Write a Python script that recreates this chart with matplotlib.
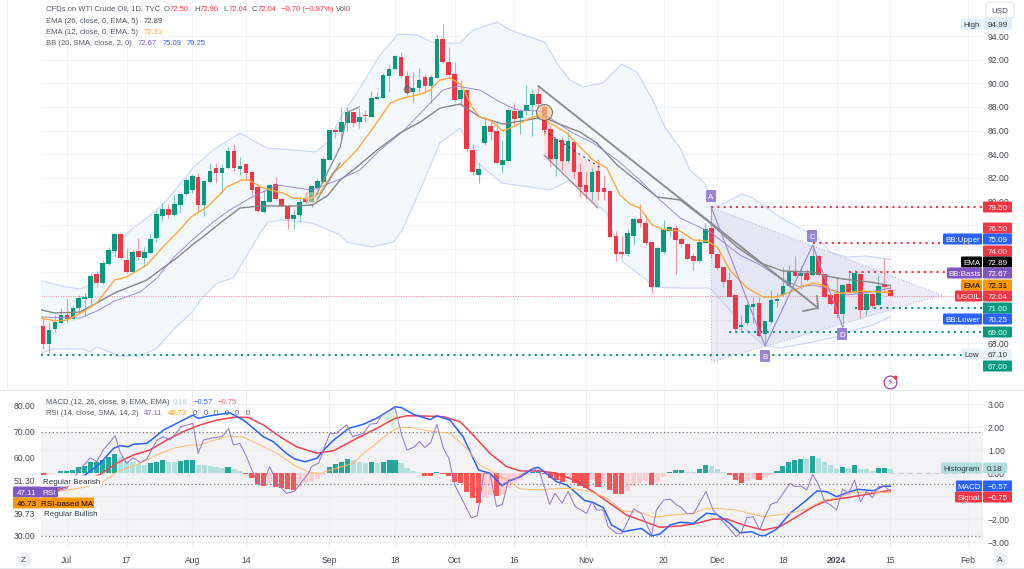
import numpy as np
import matplotlib
matplotlib.use("Agg")
import matplotlib.pyplot as plt
from matplotlib.patches import Rectangle, FancyBboxPatch

plt.rcParams['font.family'] = ['Liberation Sans', 'DejaVu Sans']

# candles, daily bars
opens = [69.46,67.94,69.18,69.75,70.37,70.06,70.96,71.75,71.81,73.84,73.07,74.74,75.81,77.22,75.02,74.06,75.78,75.22,75.67,76.91,
         78.77,79.31,78.83,79.70,80.61,81.00,82.05,79.70,81.68,82.81,82.44,82.81,84.22,82.75,83.12,82.47,81.20,79.14,79.98,81.45,
         80.18,79.62,78.49,78.85,80.18,79.93,81.12,81.68,83.51,86.05,85.91,86.67,87.52,86.70,87.32,87.18,88.70,88.79,90.59,91.18,
         92.20,90.62,89.27,89.58,90.51,89.77,90.45,93.75,91.75,90.79,88.65,89.38,84.36,82.24,84.98,86.39,85.97,83.12,83.46,87.66,
         87.04,87.66,88.14,89.07,87.94,86.11,83.57,85.20,83.46,85.01,82.50,81.40,80.78,82.53,81.09,80.88,77.08,75.67,75.53,77.11,
         78.52,78.15,76.57,72.79,75.75,77.50,77.73,76.80,76.40,75.33,74.99,76.51,77.76,75.56,74.43,73.30,72.09,69.35,69.69,71.10,
         71.38,68.79,69.77,71.58,72.09,72.85,74.06,73.69,73.92,73.75,75.33,73.81,72.06,72.17,70.48,73.02,72.31,73.86,70.82,72.17,
         71.24,72.99,72.50]
highs = [70.11,69.69,70.39,70.96,71.72,71.24,72.09,72.28,73.92,74.12,74.96,76.12,77.30,77.30,76.04,75.89,76.88,76.12,77.22,79.28,
         79.84,79.76,80.55,80.74,82.00,82.30,82.39,81.85,83.23,83.23,83.18,84.64,84.87,83.80,83.23,82.61,81.40,81.00,81.50,82.10,
         80.26,79.70,79.28,80.41,80.83,81.40,81.90,83.75,86.00,86.10,88.03,88.03,87.60,87.88,87.74,89.38,89.30,90.85,91.55,92.40,
         92.68,91.07,90.99,91.27,90.79,90.79,94.17,94.99,93.10,91.83,90.28,89.49,84.87,83.23,87.18,86.76,86.62,85.20,87.74,88.31,
         87.74,89.86,89.49,89.86,88.25,86.47,85.35,85.43,85.91,85.20,83.23,82.53,82.81,83.57,82.24,80.97,77.53,77.08,77.67,78.57,
         79.76,78.85,76.60,76.12,78.43,77.92,78.01,77.02,76.46,75.61,76.88,78.15,79.56,75.61,74.48,74.06,72.09,70.39,71.38,71.95,
         71.95,69.89,72.51,72.23,74.48,74.62,75.39,74.54,74.26,76.23,75.47,73.92,72.17,73.58,73.02,74.06,74.20,73.92,72.23,72.23,
         73.78,75.25,72.90]
lows = [67.55,67.15,68.98,69.61,69.83,69.97,70.68,70.31,71.24,72.74,73.02,74.65,75.39,75.13,73.92,73.98,75.05,74.54,75.61,76.54,
        78.38,78.60,78.77,79.14,80.55,80.69,79.14,78.77,81.60,81.60,80.75,82.75,82.61,82.24,81.82,80.55,79.14,79.05,79.95,80.15,
        79.60,77.67,77.64,78.29,79.84,79.50,81.00,81.60,83.50,85.35,85.06,85.99,86.33,86.19,86.76,87.18,88.70,88.73,89.30,91.13,
        90.42,89.01,88.45,89.30,89.21,88.31,90.42,91.69,90.42,88.45,88.17,84.22,82.24,81.60,84.78,85.20,83.17,82.39,83.46,86.39,
        85.68,87.32,85.54,88.08,85.63,82.95,82.19,82.67,83.23,81.96,80.41,80.19,80.13,80.13,80.13,77.00,74.96,75.33,75.41,76.32,
        77.87,76.32,72.23,72.79,75.53,77.02,73.86,76.18,75.10,74.20,74.77,76.46,75.19,74.20,72.74,71.95,68.98,68.98,69.55,69.69,
        68.56,67.86,69.75,71.10,72.00,72.79,73.69,72.60,73.30,73.69,73.69,71.80,71.24,70.11,69.41,72.23,72.26,70.11,70.39,70.96,
        71.21,72.37,72.04]
closes = [67.94,69.10,69.75,70.37,70.06,70.99,71.78,71.89,73.67,73.13,74.79,75.84,77.22,75.19,74.00,75.72,75.27,75.70,76.80,78.94,
          79.31,78.86,79.79,80.63,81.77,82.15,79.70,81.74,82.58,82.44,82.81,84.22,82.81,83.00,82.39,80.97,79.23,80.04,81.40,80.18,
          79.64,78.52,78.85,79.95,79.95,81.31,81.74,83.57,85.99,85.88,86.70,87.55,86.67,87.12,87.26,88.73,88.84,90.70,91.18,92.26,
          90.62,89.15,89.58,90.28,89.80,90.51,93.72,91.78,90.70,88.59,89.38,84.42,82.50,82.75,86.33,85.91,83.23,83.51,87.69,86.95,
          87.66,88.17,89.10,88.25,86.05,83.63,85.26,83.46,85.12,82.53,81.26,80.83,82.50,80.83,80.83,77.02,75.53,75.53,77.30,78.49,
          78.15,76.46,72.79,76.06,77.59,77.78,76.74,76.37,75.10,74.99,76.51,77.67,75.56,74.34,73.16,71.95,69.18,69.55,71.24,71.33,
          68.65,69.83,71.61,71.75,72.85,74.06,73.72,73.92,73.36,75.33,73.75,71.95,71.30,70.45,72.93,72.31,73.92,70.82,72.17,71.19,
          72.79,72.74,72.04]

# overlays, (bar, price) pairs read where the line is visible
ema12_x = [-0.3,2,4,6.7,9,12,14,17.4,20.1,22.4,25,27.5,30,30.8,33.3,34.4,36.9,40.2,41.9,44.7,46.4,48.6,49.8,52.6,55.3,58.2,59.8,63.2,64.9,66.5,68.2,70.2,71.9,73.2,74.9,77.1,79.4,81.6,83.3,84.7,87.8,90,92.2,94.5,96.7,98.4,100,102.1,103.7,106.8,109,111.3,113,115.1,118,120.7,123,125.2,127.4,129,130.7,133,134.7,137.4,139.8,142]
ema12_y = [70.14,69.89,69.97,70.65,71.41,73.36,73.61,74.63,76.15,77.33,78.77,79.53,80.80,81.22,81.82,81.82,81.14,80.72,80.29,80.21,80.72,82.41,82.92,84.36,86.22,88.33,88.67,89.09,89.43,90.28,90.45,89.85,88.00,87.15,86.89,85.96,86.47,87.06,87.32,86.72,85.79,84.61,83.51,82.83,80.55,79.78,79.45,78.01,77.67,77.50,76.74,76.66,76.15,74.20,72.68,71.92,71.92,72.34,72.85,73.10,72.93,72.26,72.26,72.42,72.34,72.31]
ema26_x = [-0.3,2,6.2,9,12,17.4,20.1,22.4,25,26.8,29.7,33,36.4,41.9,45.2,47.8,49.8,52.6,56,59.8,63.2,66.5,69.9,71.2,73.2,77.1,81.1,83.8,86.1,90,92.8,96.2,100,102.9,106.8,111.8,116.3,120.2,124,129,131.4,134.1,138.6,142]
ema26_y = [70.82,70.57,70.65,71.41,72.26,73.36,74.37,75.22,76.32,77.00,78.18,79.45,79.62,79.62,79.70,80.55,81.82,82.92,84.36,85.79,86.72,87.90,88.25,87.82,87.15,86.55,86.89,87.15,86.64,85.88,84.95,83.09,81.56,80.38,80.13,78.18,76.15,74.80,74.12,74.03,73.69,73.44,73.19,72.89]
basis_x = [-0.3,6.2,9,12,16.3,19.1,21.8,25,28.5,31.3,34.7,39.2,45.2,49.8,53.1,56.5,60.2,64.9,67,69.4,73.2,76.6,79.4,83.3,85.5,88.8,92.2,96.2,100,103.4,106.8,111.8,116.8,120.2,123.5,126.8,129,131.4,134.7,138.6,142]
basis_y = [70.23,70.14,70.73,71.58,72.35,73.53,75.22,76.74,78.26,79.28,80.29,81.39,80.97,81.90,82.66,84.36,85.88,88.33,89.43,89.77,89.43,88.42,87.74,87.65,86.89,85.79,84.95,83.51,81.82,80.13,78.60,77.42,75.47,74.63,73.53,72.77,72.93,72.68,72.09,72.34,72.67]
upper_x = [-0.3,4,6.2,7.9,14.1,19.1,20.8,25.1,28.5,33,37.5,41.9,45.6,47.8,49.8,52.6,56.5,59.5,62.7,65.2,67.7,69.9,72.1,76.1,78.3,81.1,84.1,86.1,88.3,90.5,93.8,97,99.5,102.2,104.2,106.8,108.4,110.9,112.1,113,115.1,117.1,119,123.5,128,130.2,131.9,134.7,138.1,142]
upper_y = [73.27,72.76,72.60,72.93,77.33,79.28,80.13,82.83,84.36,85.79,84.52,84.36,84.19,85.03,87.06,89.18,92.39,94.17,94.08,93.49,93.41,93.41,94.51,95.18,94.51,94.00,93.49,91.72,90.28,89.69,90.02,91.63,90.95,88.59,86.30,84.52,82.66,81.56,80.38,79.53,80.13,80.63,80.29,78.69,77.42,76.74,75.73,75.30,75.39,75.09]
lower_x = [-0.3,1.7,6.7,7.9,9,11.2,12.4,16.3,19.1,21.8,25,26.8,29.2,31.9,33.9,36.4,37.7,40.2,45.2,47.8,49.8,50.9,55.1,58.7,60.2,63.2,66.5,69.9,72.9,76.9,85,88.3,91.2,94.5,96.2,97.2,101.2,102,106.8,111.8,115.1,117.3,120.7,123.5,129,132.9,134.9,139.1,142]
lower_y = [67.18,67.52,67.52,67.27,67.69,67.27,66.93,66.93,67.60,69.13,70.65,71.92,73.10,73.53,75.20,77.33,78.26,78.43,78.18,77.59,77.16,76.57,76.15,76.57,77.59,80.97,84.95,86.22,83.26,81.56,80.97,81.82,80.38,79.03,76.15,74.88,73.36,72.76,72.68,72.68,70.82,69.38,67.86,67.60,68.11,68.53,68.96,69.55,70.25]

# lower pane
rsi_x = [-0.2,4,5.6,7.9,9,10.1,12.1,12.9,14,15.1,16.3,17.4,19.1,20.2,21.3,23.2,25.1,26,26.9,28.5,30,31.1,31.9,33,34.1,35.3,36.1,36.9,38,39.2,40.8,42.2,43.4,44.5,45,46.2,47.3,48.1,49.2,49.8,
         50.9,51.9,53.7,54.8,55.9,56.8,59,60.1,61,62.1,63.1,64,65,66,67.1,68,69,71,71.8,72.8,73.9,74.9,76,77,78,79.4,81.1,82.2,83.3,84.9,85.8,87,88,89.2,91.1,92,92.8,93.9,94.7,96.1,97,99,100.3,102,102.8,104,105.1,106.2,106.8,
         107.9,109,111.1,112.3,114,116.2,117.1,118,119,120.1,121,122,123,125.2,126,127,128,129,130,131,132,133,134,135,136,137,138,139,140,141,142]
rsi_y = [45.8,48.3,53.7,60.1,58.6,63.1,68.5,62.4,58.0,60.1,58.3,59.6,66.9,68.2,66.9,72.1,73.3,61.8,66.9,67.8,68.2,71.4,65.0,65.6,60.5,53.7,49.6,50.3,56.7,50.3,46.4,47.3,50.9,54.1,56.7,58.0,65.0,69.5,69.5,70.8,
         72.7,68.2,69.5,73.0,73.3,76.5,79.4,68.8,63.1,64.1,66.3,64.0,66.0,73.0,63.7,59.9,49.6,40.6,37.0,37.8,54.1,54.1,41.3,42.2,51.5,52.2,55.0,56.0,54.1,42.2,46.4,42.6,47.1,41.3,38.7,43.2,40.0,40.0,33.6,31.0,31.0,40.4,38.7,30.4,40.0,43.8,44.2,41.9,41.3,
         38.7,38.5,47.1,40.0,35.5,29.7,31.7,37.1,37.4,32.3,37.4,42.2,43.0,50.3,49.0,49.2,47.7,53.7,49.6,43.2,41.9,40.0,48.1,46.4,51.5,43.2,47.1,44.7,49.0,49.2,47.11]
rsi_ma_x = [-0.2,2.6,7.6,10.1,12.3,16.3,19.1,21.8,24.6,26.3,28.5,31.3,33.6,35.8,39.2,42,44.8,46.4,52,53.7,55.9,58.2,59.8,61.5,64.3,68.2,71,73.2,75.5,77.7,80,83.3,86.1,88.9,91.7,94.5,97.2,100,102.3,105.6,109,110.9,112.9,116.2,120.7,125.2,128,130.8,133,135.8,139.2,142]
rsi_ma_y = [46.4,47.1,49.0,50.9,54.5,58.0,61.2,63.7,65.0,65.0,66.7,68.5,68.0,65.6,61.8,57.3,54.4,54.1,58.0,61.8,65.6,70.1,71.8,71.8,70.5,69.5,63.7,57.3,54.5,51.5,48.1,47.7,48.3,48.3,47.1,44.5,39.6,39.1,37.2,38.1,38.7,40.4,40.6,40.0,37.4,38.7,40.4,43.8,44.5,46.8,46.8,46.73]
macd_x = [-0.2,4,7.2,9.6,11.8,12.9,14.3,15.1,17.4,18.5,20.2,22.4,25.1,26,28,31.3,33.6,35.3,36.9,38.6,40.8,42.2,43.9,45.9,47.3,48.7,49.8,51.2,53.7,55.9,59,60.1,62.1,64.9,66,68.2,70.4,73,74.9,76.9,78.3,80,82.2,83,84.7,86.1,87.8,89.4,90.8,92.2,93.9,95.3,97.3,98.7,100.3,102,103.4,105.1,106.8,109,111.2,112.9,115.1,116.8,118.8,120.2,121,123,125.2,128,129.7,131.3,133,135.2,136.6,139.2,140.8,142]
macd_y = [-0.84,-0.52,-0.06,0.42,1.07,1.19,1.14,1.25,1.29,1.51,1.87,2.16,2.52,2.38,2.49,2.62,2.30,1.94,1.58,1.36,0.85,0.61,0.49,0.64,1.07,1.43,1.65,1.94,2.12,2.38,2.88,2.84,2.55,2.32,2.49,2.30,1.58,0.13,-0.01,-0.55,-0.33,-0.16,0.20,0.25,-0.09,-0.38,-0.52,-0.88,-1.20,-1.28,-1.51,-2.26,-2.55,-2.48,-2.41,-2.74,-2.65,-2.26,-2.14,-2.19,-1.75,-1.80,-2.19,-2.60,-2.55,-2.72,-2.72,-2.43,-1.75,-1.17,-0.78,-0.81,-1.03,-0.81,-0.71,-0.77,-0.57,-0.57]
signal_x = [-0.2,4,9.6,12.3,15.1,17.9,20.7,23.5,26.3,29.1,31.9,34.4,36.9,39.7,42.5,45.9,48.7,49.8,52.6,55.9,59,61,63.7,67.1,69.9,72.1,74.9,77.7,80,83.3,86.1,88.9,92.2,95,97.8,100.6,103.4,106.8,109.5,112.3,114.6,117.4,120.7,123.5,126.3,129.1,131.3,134.7,138,142]
signal_y = [-0.96,-0.59,-0.06,0.42,0.78,1.00,1.43,1.80,2.09,2.30,2.42,2.42,2.09,1.58,1.14,0.86,0.97,1.12,1.51,1.94,2.38,2.49,2.48,2.45,2.23,1.65,0.85,0.28,0.09,0.09,-0.01,-0.30,-0.81,-1.32,-1.83,-2.09,-2.36,-2.30,-2.19,-2.00,-2.00,-2.26,-2.48,-2.33,-1.90,-1.46,-1.20,-1.07,-0.93,-0.75]
hist = [-0.10,-0.06,0.01,0.07,0.08,0.14,0.26,0.30,0.46,0.47,0.55,0.68,0.82,0.70,0.54,0.49,0.40,0.36,0.43,0.50,
        0.55,0.50,0.49,0.52,0.57,0.58,0.36,0.33,0.32,0.27,0.23,0.28,0.17,0.07,-0.04,-0.20,-0.48,-0.55,-0.44,-0.60,
        -0.65,-0.70,-0.72,-0.62,-0.45,-0.37,-0.26,-0.07,0.26,0.40,0.50,0.60,0.55,0.50,0.42,0.50,0.45,0.50,0.55,0.58,
        0.45,0.22,0.07,0.02,-0.12,-0.14,0.03,-0.05,-0.15,-0.38,-0.45,-0.82,-1.10,-1.30,-1.10,-0.95,-1.00,-0.95,-0.65,-0.45,
        -0.30,-0.10,0.05,0.07,-0.05,-0.23,-0.30,-0.40,-0.23,-0.45,-0.57,-0.64,-0.30,-0.60,-0.45,-0.74,-0.91,-0.93,-0.78,-0.57,
        -0.42,-0.35,-0.52,-0.38,-0.16,0.03,0.13,0.15,0.06,0.04,0.18,0.33,0.29,0.17,0.05,-0.10,-0.32,-0.42,-0.33,-0.27,
        -0.32,-0.20,-0.07,0.09,0.30,0.50,0.58,0.63,0.62,0.72,0.65,0.50,0.33,0.18,0.25,0.20,0.33,0.17,0.16,0.09,
        0.20,0.23,0.18]

# axis labels
date_pos = [4,14,25,34,48,59,69,79,91,104,113,124,133,142,155]
date_labels = ['Jul','17','Aug','14','Sep','18','Oct','16','Nov','20','Dec','18','2024','15','Feb']
price_ticks = list(range(68, 96, 2))
price_shown = [68,80,82,84,86,88,90,92,94]
macd_ticks = [3,2,1,0,-1,-2,-3]
macd_labels = ['3.00','2.00','1.00','0.00','','\u22122.00','\u22123.00']
rsi_ticks = [80,70,60,51.3,38.46,30]
rsi_labels = ['80.00','70.00','60.00','51.30','39.73','30.00']

# horizontal levels: price, first bar, last bar
res_levels = [(79.5,112,157.3),(76.5,129,150.3),(74,135,151.5)]
sup_levels = [(71,136,157.3),(69,115,157.3),(67,-0.3,154.2)]

# drawings
abcd_x = [112,121,129,134]
abcd_y = [79.5,67.77,76.32,69.4]
tri_x = [112,112,150.6]
tri_y = [79.5,66.42,72.09]
arrow_x = [83,129.9]
arrow_y = [89.77,70.99]
head_x = [127.4,129.9,129.7]
head_y = [70.73,70.99,72.0]
rally_x = [45.6,49.8,51.1,53]
rally_y = [80.38,84.6,87.57,88.0]
rally2_x = [45.9,49.8]
rally2_y = [80.13,83.26]

GREEN = '#089981'
RED = '#f23645'
TXT = '#555a66'
GRID = '#f1f2f6'
PX_W, PX_H = 1024, 569
bar = np.arange(len(closes))

fig = plt.figure(figsize=(10.24, 5.69), dpi=100, facecolor='white')


def pane(top, bottom):
    return [41 / PX_W, 1 - bottom / PX_H, (983 - 41) / PX_W, (bottom - top) / PX_H]


xlim = (-0.335, 157.53)

# price pane
ax = fig.add_axes(pane(0, 386))
ax.set_xlim(xlim)
ax.set_ylim(64.39, 97.05)
for s in ax.spines.values():
    s.set_visible(False)
ax.set_xticks(date_pos)
ax.tick_params(axis='x', length=0, labelbottom=False)
ax.yaxis.tick_right()
ax.set_yticks(price_ticks)
ax.set_yticklabels(['%.2f' % p if p in price_shown else '' for p in price_ticks])
ax.tick_params(axis='y', length=0, pad=3.6, labelsize=6.2, labelcolor='#454954')
ax.grid(color=GRID, lw=0.8)
ax.set_axisbelow(True)

# bollinger cloud
ax.fill(upper_x + lower_x[::-1], upper_y + lower_y[::-1], color='#f1f7fd', alpha=0.85, lw=0, zorder=1)
ax.plot(upper_x, upper_y, color='#c7d6f8', lw=0.8, zorder=2)
ax.plot(lower_x, lower_y, color='#c7d6f8', lw=0.8, zorder=2)

# harmonic triangle and falling channel
ax.fill(tri_x, tri_y, color='#cfc9e6', alpha=0.35, lw=0, zorder=2)
ax.plot(tri_x + tri_x[:1], tri_y + tri_y[:1], color='#b3a5dd', lw=0.7, ls=(0, (1, 2)), zorder=2.5)
ax.fill([84, 93.3, 93, 84], [85.96, 82.9, 79.45, 83.93], color='#f3d5dd', alpha=0.6, lw=0, zorder=2)
ax.plot([84, 93], [83.93, 79.45], color='#9a8f94', lw=0.9, zorder=2.5)
ax.plot([84, 93.3], [85.96, 82.9], color='#333333', lw=0.7, ls=(0, (2, 4)), zorder=6)

# price levels
ax.axhline(closes[-1], color=RED, lw=0.7, ls=(0, (1, 1.5)), alpha=0.55, zorder=2)
for lvl, a, b in res_levels:
    ax.hlines(lvl, a, b, color=RED, lw=1.5, ls=(0, (1, 2)), zorder=3)
for lvl, a, b in sup_levels:
    ax.hlines(lvl, a, b, color=GREEN, lw=1.5, ls=(0, (1, 2)), zorder=3)

# candles
is_up = [c >= o for o, c in zip(opens, closes)]
col = [GREEN if u else RED for u in is_up]
ax.vlines(bar, lows, highs, colors=col, lw=0.8, alpha=0.5, zorder=4)
ax.bar(bar, np.abs(np.array(closes) - np.array(opens)) + 0.03, bottom=np.minimum(opens, closes),
       width=0.78, color=col, lw=0, zorder=5)

# moving averages
ax.plot(ema26_x, ema26_y, color='#858585', lw=1.0, zorder=6)
ax.plot(basis_x, basis_y, color='#9b80d4', lw=0.65, zorder=6)
ax.plot(ema12_x, ema12_y, color='#ffa936', lw=1.0, zorder=6)

# hand drawn lines
ax.plot(arrow_x, arrow_y, color='#8e8e8e', lw=1.4, zorder=7, solid_capstyle='round')
ax.plot(head_x, head_y, color='#8e8e8e', lw=1.3, zorder=7)
ax.plot(rally_x, rally_y, color='#8e8e8e', lw=0.9, zorder=7)
ax.plot(rally2_x, rally2_y, color='#8e8e8e', lw=0.9, zorder=7)
ax.plot(abcd_x, abcd_y, color='#9a84d6', lw=0.8, zorder=7)
ax.scatter([84], [87.57], s=132, facecolor='#f6c98c', alpha=0.65, edgecolor='#444444', lw=0.8, zorder=8)
ax.scatter([45], [80.29], s=88, facecolor='#f6d9b0', alpha=0.5, edgecolor='#333333', lw=0.6, ls=':', zorder=8)
ax.scatter([61], [89.5], s=25, facecolor='#777777', alpha=0.6, edgecolor='#333333', lw=0.5, zorder=8)

# lower pane: macd under, rsi over
rsi_lim = (25.38, 86.15)
ax_m = fig.add_axes(pane(390, 548))
ax_m.set_xlim(xlim)
ax_m.set_ylim(-3.26, 3.61)
for s in ax_m.spines.values():
    s.set_visible(False)
f0 = (30 - rsi_lim[0]) / (rsi_lim[1] - rsi_lim[0])
f1 = (70 - rsi_lim[0]) / (rsi_lim[1] - rsi_lim[0])
ax_m.add_patch(Rectangle((0, f0), 1, f1 - f0, transform=ax_m.transAxes, color='#f3f3f5', lw=0, zorder=0))
ax_m.yaxis.tick_right()
ax_m.set_yticks(macd_ticks)
ax_m.set_yticklabels(macd_labels)
ax_m.set_xticks(date_pos)
ax_m.set_xticklabels(date_labels)
ax_m.tick_params(axis='y', length=0, pad=3.6, labelsize=6.2, labelcolor='#454954')
ax_m.tick_params(axis='x', length=0, pad=6, labelsize=6.2, labelcolor='#454954')
ax_m.get_xticklabels()[12].set_fontweight('bold')
ax_m.grid(color='#eceef2', lw=0.8)
ax_m.set_axisbelow(True)

hist_col = []
for k, v in enumerate(hist):
    prev = hist[k - 1] if k else 0
    if v >= 0:
        hist_col.append('#26a69a' if v >= prev else '#b2dfdb')
    else:
        hist_col.append('#ff5252' if v < prev else '#ffcdd2')
ax_m.fill([56.5, 59, 59], [2.48, 2.88, 1.87], color='#dcf0dc', lw=0, zorder=1)
ax_m.bar(bar, hist, width=0.86, color=hist_col, lw=0, zorder=2)
ax_m.hlines(0, 142, 153, color='#c8c8c8', lw=0.8, ls=(0, (4, 4)), zorder=2)
ax_m.plot(signal_x, signal_y, color='#f6404f', lw=1.1, zorder=3)
ax_m.plot(macd_x, macd_y, color='#2962ff', lw=1.1, zorder=3)

ax_r = fig.add_axes(pane(390, 548))
ax_r.patch.set_visible(False)
ax_r.set_xlim(xlim)
ax_r.set_ylim(rsi_lim)
for s in ax_r.spines.values():
    s.set_visible(False)
ax_r.set_xticks([])
ax_r.set_yticks(rsi_ticks)
ax_r.set_yticklabels(rsi_labels)
ax_r.tick_params(axis='y', length=0, pad=4.3, labelsize=6.2, labelcolor='#454954')
for lvl in (70, 50, 30):
    ax_r.axhline(lvl, color='#777777', lw=0.9, ls=(0, (1, 2)), zorder=1)
ax_r.plot(rsi_ma_x, rsi_ma_y, color='#ffb866', lw=0.7, zorder=2)
ax_r.plot(rsi_x, rsi_y, color='#9273cd', lw=0.7, zorder=2)

# overlay in pixels for the price scale tags and legend text
ov = fig.add_axes([0, 0, 1, 1], zorder=10)
ov.patch.set_visible(False)
ov.set_xlim(0, PX_W)
ov.set_ylim(PX_H, 0)
ov.axis('off')


def tag(x0, x1, yc, text, fc, tc='white', h=11, fs=5.8, weight='normal'):
    ov.add_patch(FancyBboxPatch((x0 + 0.5, yc - h / 2 + 0.5), x1 - x0 - 1, h - 1, boxstyle='round,pad=0.5,rounding_size=1',
                                fc=fc, ec='none', lw=0))
    ov.text((x0 + x1) / 2, yc, text, color=tc, fontsize=fs, ha='center', va='center_baseline', fontweight=weight)


def label(x, y, text, color=TXT, fs=5.5):
    ov.text(x, y, text, color=color, fontsize=fs, ha='left', va='center_baseline')


# price scale
BLUE = '#2962ff'
PURPLE = '#7e57c2'
ORANGE = '#ff9800'
right_tags = [(207, '79.50', RED), (228, '76.50', RED), (239, '75.09', BLUE), (251, '74.00', RED), (262, '72.89', 'black'),
              (273, '72.67', PURPLE), (285, '72.31', ORANGE), (296, '72.04', RED), (308, '71.00', GREEN), (319, '70.25', BLUE),
              (332, '69.00', GREEN), (366, '67.00', GREEN)]
for yc, txt, c in right_tags:
    tag(983, 1012, yc, txt, c, tc='black' if c == ORANGE else 'white')
name_tags = [(943, 239, 'BB:Upper', BLUE), (961, 262, 'EMA', 'black'), (947, 273, 'BB:Basis', PURPLE),
             (961, 285, 'EMA', ORANGE), (955, 296, 'USOIL', RED), (943, 319, 'BB:Lower', BLUE)]
for x0, yc, txt, c in name_tags:
    tag(x0, 982, yc, txt, c, tc='black' if c == ORANGE else 'white')
tag(961, 982, 24, 'High', '#e3f0fb', tc='#333a45')
tag(983, 1012, 24, '94.99', '#e3f0fb', tc='#333a45')
tag(962, 982, 354, 'Low', '#e9f1fa', tc='#333a45')
tag(983, 1012, 354, '67.10', '#e9f1fa', tc='#333a45')
ov.add_patch(FancyBboxPatch((986, 2), 28, 16, boxstyle='round,pad=0,rounding_size=2', fc='white', ec='#e0e3eb', lw=0.8))
ov.text(1000, 10, 'USD', color='#454954', fontsize=5.8, ha='center', va='center_baseline')

# macd side tags
tag(941, 982, 468, 'Histogram', '#b2dfdb', tc='#333a45')
tag(983, 1007, 468, '0.18', '#b2dfdb', tc='#333a45')
tag(956, 982, 486, 'MACD', BLUE)
tag(983, 1012, 486, '\u22120.57', BLUE)
tag(955, 982, 497, 'Signal', RED)
tag(983, 1012, 497, '\u22120.75', RED)

# rsi side tags
tag(13, 41, 492, '47.11', PURPLE)
tag(41, 58, 492, 'RSI', PURPLE)
tag(13, 41, 503, '46.73', ORANGE, tc='black')
tag(41, 94, 503, 'RSI-based MA', ORANGE, tc='black')
tag(41, 102, 481, 'Regular Bearish', 'white', tc='#333a45')
tag(41, 100, 514, 'Regular Bullish', 'white', tc='#333a45')

# abcd letters
for x, y, t in [(711, 196, 'A'), (765, 356, 'B'), (812, 236, 'C'), (842, 334, 'D')]:
    tag(x - 5, x + 5, y, t, '#9b84d8', h=12)

# legend rows
label(46, 8, 'CFDs on WTI Crude Oil, 1D, TVC')
for x, a, b in [(164, 'O', '72.50'), (194, 'H', '72.90'), (223, 'L', '72.04'), (252, 'C', '72.04')]:
    label(x, 8, a)
    label(x + 5.3, 8, b, color=RED)
label(281, 8, '\u22120.70 (\u22120.97%)', color=RED)
label(336, 8, 'Vol')
label(346, 8, '0', color=RED)
label(46, 20, 'EMA (26, close, 0, EMA, 5)')
label(144, 20, '72.89', color='#444444')
label(46, 31, 'EMA (12, close, 0, EMA, 5)')
label(144, 31, '72.31', color='#ffa936')
label(46, 42, 'BB (20, SMA, close, 2, 0)')
label(138, 42, '72.67', color=PURPLE)
label(163, 42, '75.09', color=BLUE)
label(187, 42, '70.25', color=BLUE)
label(46, 401, 'MACD (12, 26, close, 9, EMA, EMA)')
label(173, 401, '0.18', color='#9fd8d2')
label(194, 401, '\u22120.57', color=BLUE)
label(218, 401, '\u22120.75', color='#f6606d')
label(46, 412, 'RSI (14, close, SMA, 14, 2)')
label(144, 412, '47.11', color=PURPLE)
label(168, 412, '46.73', color=ORANGE)
for x in [193, 204, 214, 225, 235, 246]:
    label(x, 412, '0')

# corner buttons and the lightning badge
ov.scatter([23.5, 1000], [559, 559], s=110, color='#eff0f4', lw=0)
ov.text(23.5, 559, 'Z', color='#454954', fontsize=6, ha='center', va='center_baseline')
ov.text(1000, 559, 'A', color='#454954', fontsize=6, ha='center', va='center_baseline')
ov.scatter([890], [382], s=85, facecolor='white', edgecolor='#a040b0', lw=0.9)
ov.text(890, 382, '\u26a1', color='#a040b0', fontsize=7, ha='center', va='center', family='DejaVu Sans')
ov.scatter([895], [377], s=8, color=RED, lw=0)

# pane borders
ov.plot([0, PX_W], [390, 390], color='#e6e8ee', lw=0.9)
ov.plot([0, PX_W], [568, 568], color='#e6e8ee', lw=0.9)
ov.plot([7, 7], [0, 390], color='#eef0f5', lw=0.8)

fig.savefig('out.png', dpi=100)
